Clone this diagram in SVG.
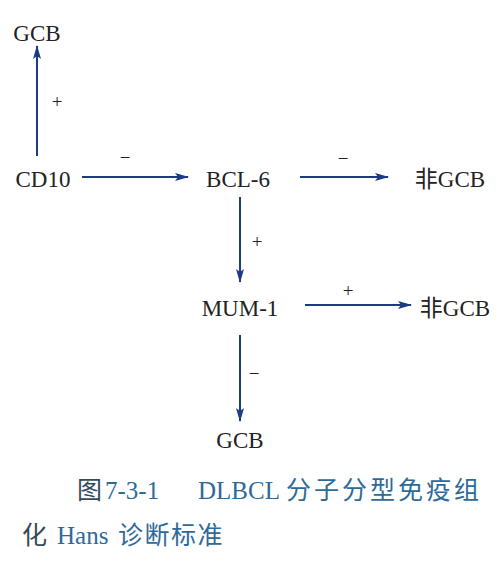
<svg xmlns="http://www.w3.org/2000/svg" width="500" height="572" viewBox="0 0 500 572">
<style>
.n{font-family:"Liberation Serif","Noto Sans CJK SC",serif;font-size:23px;fill:#222;text-anchor:middle}
.l{font-family:"Liberation Serif",serif;font-size:19px;fill:#222;text-anchor:middle}
.c{stroke:#1d3b85;stroke-width:2;fill:none;marker-end:url(#ah)}
.cap{font-family:"Liberation Serif","Noto Sans CJK SC",serif;font-size:25px;fill:#2e6a98}
.dk{fill:#34495a}
</style>
<defs>
<marker id="ah" viewBox="0 0 14 8" refX="13" refY="4" markerWidth="14" markerHeight="8" markerUnits="userSpaceOnUse" orient="auto">
<path d="M0,0 L14,4 L0,8 L3,4 Z" fill="#1d3b85"/>
</marker>
</defs>
<rect width="500" height="572" fill="#fff"/>
<g id="connectors">
<line class="c" x1="37" y1="156" x2="37" y2="46"/>
<text class="l" x="57" y="108">+</text>
<line class="c" x1="82" y1="177" x2="188" y2="177"/>
<text class="l" x="125" y="164">−</text>
<line class="c" x1="300" y1="177" x2="388" y2="177"/>
<text class="l" x="343" y="165">−</text>
<line class="c" x1="240" y1="197" x2="240" y2="282"/>
<text class="l" x="257" y="248">+</text>
<line class="c" x1="305" y1="305" x2="411" y2="305"/>
<text class="l" x="348" y="297">+</text>
<line class="c" x1="240" y1="335" x2="240" y2="421"/>
<text class="l" x="254" y="380">−</text>
</g>
<g id="gcb1"><text class="n" x="37" y="41">GCB</text></g>
<g id="cd10"><text class="n" x="43" y="187">CD10</text></g>
<g id="bcl6"><text class="n" x="238" y="187">BCL-6</text></g>
<g id="nongcb1"><text class="n" x="450" y="187">非GCB</text></g>
<g id="mum1"><text class="n" x="240" y="316">MUM-1</text></g>
<g id="nongcb2"><text class="n" x="455" y="316">非GCB</text></g>
<g id="gcb2"><text class="n" x="240" y="448">GCB</text></g>
<g id="caption">
<text class="cap dk" x="77" y="499">图</text>
<text class="cap" x="105" y="499" font-size="26">7-3-1</text>
<text class="cap" x="198" y="499" font-size="23">DLBCL</text>
<text class="cap" x="286" y="499" letter-spacing="3">分子分型免疫组</text>
<text class="cap dk" x="22" y="544">化</text>
<text class="cap" x="57" y="544">Hans</text>
<text class="cap" x="118" y="544" letter-spacing="1.5">诊断标准</text>
</g>
</svg>
